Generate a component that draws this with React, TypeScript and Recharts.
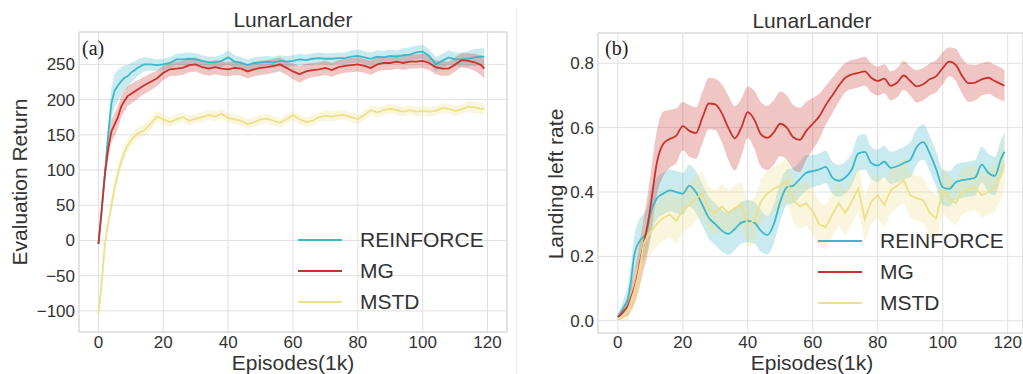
import { Area, CartesianGrid, ComposedChart, Line, ReferenceArea, XAxis, YAxis } from 'recharts'

// episodes (in 1k) sampled along the curves
const EPISODES = [
  0, 1, 2, 3, 4, 5, 6, 7, 8, 9, 10,
  12, 14, 16, 18, 20, 22, 24, 26, 28,
  30, 32, 34, 36, 38, 40, 42, 44, 46,
  48, 50, 52, 54, 56, 58, 60, 62, 64,
  66, 68, 70, 72, 74, 76, 78, 80, 82,
  84, 86, 88, 90, 92, 94, 96, 98, 100,
  102, 104, 106, 108, 110, 112, 114, 116, 118,
  119
]
const X_TICKS = [0, 20, 40, 60, 80, 100, 120]

// (a) evaluation return
const RETURN_REINFORCE = [
  -5, 40, 95, 150, 195, 213, 220, 226, 231, 233, 238,
  245, 250, 250, 249, 250, 252, 257, 257, 258,
  257, 255, 253, 253, 255, 260, 254, 252, 249,
  252, 253, 254, 253, 255, 254, 255, 257, 256,
  258, 259, 258, 258, 259, 259, 261, 262, 260,
  258, 261, 260, 262, 261, 263, 264, 267, 268,
  262, 250, 255, 260, 257, 257, 258, 260, 261,
  261
]
const RETURN_REINFORCE_SD = [
  2, 6, 12, 18, 22, 24, 22, 20, 18, 16, 14,
  12, 10, 9, 8, 8, 8, 8, 9, 9,
  9, 8, 8, 8, 9, 10, 9, 8, 8,
  8, 8, 8, 8, 8, 8, 8, 8, 8,
  8, 8, 8, 8, 8, 8, 9, 9, 9,
  9, 9, 9, 9, 9, 10, 10, 10, 10,
  10, 10, 10, 10, 10, 10, 11, 12, 12,
  12
]
const RETURN_MG = [
  -5, 45, 95, 130, 155, 165, 175, 190, 198, 205, 208,
  214, 220, 225, 230, 238, 243, 244, 245, 249,
  250, 246, 244, 246, 244, 243, 245, 244, 240,
  243, 245, 246, 248, 250, 245, 240, 236, 240,
  242, 243, 245, 242, 246, 248, 249, 250, 248,
  245, 250, 252, 252, 254, 252, 254, 254, 255,
  252, 246, 244, 244, 250, 256, 255, 253, 249,
  244
]
const RETURN_MG_SD = [
  2, 5, 10, 14, 16, 16, 16, 15, 15, 14, 14,
  13, 12, 12, 11, 10, 10, 10, 10, 10,
  10, 10, 10, 10, 10, 10, 10, 10, 10,
  10, 10, 10, 10, 10, 10, 11, 12, 11,
  10, 10, 10, 10, 10, 10, 10, 10, 10,
  10, 10, 10, 10, 10, 10, 10, 10, 10,
  10, 10, 10, 10, 10, 10, 11, 12, 14,
  14
]
const RETURN_MSTD = [
  -105, -60, -5, 25, 50, 75, 95, 112, 125, 135, 142,
  152, 156, 165, 176, 172, 168, 172, 175, 170,
  173, 175, 178, 176, 180, 174, 172, 170, 165,
  168, 172, 173, 170, 167, 172, 178, 172, 168,
  170, 175, 177, 176, 178, 178, 175, 172, 178,
  185, 182, 185, 187, 185, 183, 185, 183, 184,
  183, 184, 188, 187, 184, 186, 190, 189, 187,
  187
]
const RETURN_MSTD_SD = [
  2, 4, 6, 8, 10, 10, 10, 10, 10, 9, 9,
  8, 8, 8, 8, 8, 7, 7, 7, 7,
  7, 7, 7, 7, 7, 7, 7, 7, 7,
  7, 7, 7, 7, 7, 7, 7, 7, 7,
  7, 7, 7, 7, 7, 7, 7, 7, 7,
  7, 7, 7, 7, 7, 7, 7, 7, 7,
  7, 7, 7, 7, 7, 7, 8, 8, 8,
  8
]
const RETURN_TICKS = [-100, -50, 0, 50, 100, 150, 200, 250]

// (b) landing left rate
const RATE_REINFORCE = [
  0.012, 0.025, 0.045, 0.065, 0.12, 0.2, 0.235, 0.252, 0.262, 0.28, 0.33,
  0.38, 0.395, 0.405, 0.4, 0.395, 0.42, 0.4, 0.36, 0.32,
  0.3, 0.28, 0.27, 0.285, 0.305, 0.31, 0.305, 0.28, 0.266,
  0.3, 0.37, 0.415, 0.42, 0.44, 0.46, 0.465, 0.47, 0.478,
  0.445, 0.435, 0.445, 0.47, 0.52, 0.525, 0.49, 0.482, 0.494,
  0.475, 0.48, 0.49, 0.5, 0.54, 0.555, 0.52, 0.47, 0.415,
  0.41, 0.43, 0.437, 0.44, 0.445, 0.485, 0.46, 0.45, 0.505,
  0.525
]
const RATE_REINFORCE_SD = [
  0.01, 0.02, 0.03, 0.04, 0.05, 0.06, 0.065, 0.07, 0.07, 0.07, 0.07,
  0.065, 0.065, 0.065, 0.065, 0.065, 0.065, 0.065, 0.065, 0.065,
  0.065, 0.065, 0.065, 0.065, 0.065, 0.065, 0.065, 0.065, 0.06,
  0.06, 0.06, 0.055, 0.055, 0.055, 0.055, 0.05, 0.05, 0.05,
  0.05, 0.05, 0.05, 0.05, 0.055, 0.055, 0.05, 0.05, 0.05,
  0.05, 0.05, 0.05, 0.055, 0.055, 0.055, 0.055, 0.055, 0.055,
  0.055, 0.055, 0.055, 0.055, 0.055, 0.055, 0.06, 0.06, 0.06,
  0.06
]
const RATE_MG = [
  0.012, 0.02, 0.032, 0.045, 0.07, 0.1, 0.14, 0.19, 0.24, 0.29, 0.35,
  0.49, 0.55, 0.565, 0.575, 0.605, 0.59, 0.583, 0.63, 0.675,
  0.672, 0.645, 0.6, 0.567, 0.6, 0.648, 0.625, 0.58, 0.568,
  0.585, 0.612, 0.6, 0.57, 0.562, 0.59, 0.612, 0.635, 0.67,
  0.7, 0.73, 0.755, 0.765, 0.77, 0.775, 0.755, 0.745, 0.752,
  0.73, 0.74, 0.762, 0.745, 0.728, 0.735, 0.75, 0.76, 0.785,
  0.805, 0.795, 0.76, 0.738, 0.74, 0.75, 0.755, 0.745, 0.735,
  0.73
]
const RATE_MG_SD = [
  0.01, 0.015, 0.02, 0.03, 0.04, 0.05, 0.06, 0.07, 0.08, 0.09, 0.1,
  0.1, 0.1, 0.09, 0.085, 0.075, 0.08, 0.08, 0.08, 0.08,
  0.08, 0.09, 0.1, 0.1, 0.09, 0.08, 0.09, 0.1, 0.1,
  0.1, 0.1, 0.1, 0.1, 0.1, 0.09, 0.08, 0.07, 0.06,
  0.055, 0.05, 0.045, 0.045, 0.045, 0.045, 0.045, 0.045, 0.045,
  0.045, 0.045, 0.045, 0.045, 0.05, 0.05, 0.05, 0.05, 0.05,
  0.045, 0.05, 0.055, 0.058, 0.055, 0.05, 0.05, 0.05, 0.05,
  0.05
]
const RATE_MSTD = [
  0.005, 0.01, 0.02, 0.03, 0.06, 0.09, 0.13, 0.18, 0.24, 0.26, 0.275,
  0.3, 0.32, 0.33, 0.31, 0.345, 0.36, 0.38, 0.395, 0.345,
  0.335, 0.355, 0.335, 0.35, 0.36, 0.3, 0.31, 0.37, 0.395,
  0.41, 0.42, 0.435, 0.375, 0.355, 0.365, 0.34, 0.3, 0.29,
  0.33, 0.365, 0.335, 0.37, 0.41, 0.315, 0.37, 0.39, 0.36,
  0.405, 0.42, 0.437, 0.39, 0.38, 0.375, 0.335, 0.318, 0.406,
  0.38, 0.365, 0.4, 0.41, 0.414, 0.39, 0.4, 0.412, 0.46,
  0.489
]
const RATE_MSTD_SD = [
  0.005, 0.01, 0.02, 0.03, 0.04, 0.05, 0.06, 0.07, 0.07, 0.07, 0.07,
  0.07, 0.07, 0.07, 0.07, 0.07, 0.07, 0.07, 0.07, 0.07,
  0.07, 0.07, 0.07, 0.07, 0.07, 0.07, 0.07, 0.07, 0.07,
  0.07, 0.07, 0.07, 0.07, 0.07, 0.07, 0.07, 0.07, 0.07,
  0.07, 0.07, 0.07, 0.07, 0.07, 0.07, 0.07, 0.07, 0.07,
  0.07, 0.07, 0.07, 0.07, 0.07, 0.07, 0.07, 0.07, 0.07,
  0.07, 0.07, 0.07, 0.07, 0.07, 0.07, 0.07, 0.075, 0.08,
  0.08
]
const RATE_TICKS = [0, 0.2, 0.4, 0.6, 0.8]

const SERIES = [
  { key: 'reinforce', name: 'REINFORCE', color: '#3db8c9', smooth: true },
  { key: 'mg', name: 'MG', color: '#c9332e', smooth: true },
  { key: 'mstd', name: 'MSTD', color: '#eee089', smooth: false }
]

const FONT = '"Liberation Sans", Arial, sans-serif'
const INK = '#333333'
const GRID = '#e1e1e1'

const buildRows = (means: number[][], sds: number[][]) =>
  EPISODES.map((x, i) => {
    const row: any = { x }
    SERIES.forEach((s, k) => {
      row[s.key] = means[k][i]
      row[s.key + 'Band'] = [means[k][i] - sds[k][i], means[k][i] + sds[k][i]]
    })
    return row
  })

const returnRows = buildRows(
  [RETURN_REINFORCE, RETURN_MG, RETURN_MSTD],
  [RETURN_REINFORCE_SD, RETURN_MG_SD, RETURN_MSTD_SD]
)
const rateRows = buildRows(
  [RATE_REINFORCE, RATE_MG, RATE_MSTD],
  [RATE_REINFORCE_SD, RATE_MG_SD, RATE_MSTD_SD]
)

const tickStyle = { fontSize: 17, fill: INK, fontFamily: FONT }

const Text = ({ x, y, size, children, serif = false }: any) => (
  <div
    style={{
      position: 'absolute',
      left: x,
      top: y,
      fontSize: size,
      lineHeight: `${size}px`,
      whiteSpace: 'nowrap',
      fontFamily: serif ? '"Liberation Serif", "Times New Roman", serif' : FONT,
      color: serif ? '#222' : INK
    }}
  >
    {children}
  </div>
)

const CenteredText = ({ x, y, lh = 21, children }: any) => (
  <div
    style={{
      position: 'absolute',
      left: x,
      top: y,
      transform: 'translateX(-50%)',
      fontSize: 21,
      lineHeight: `${lh}px`,
      whiteSpace: 'nowrap',
      color: INK
    }}
  >
    {children}
  </div>
)

const VerticalText = ({ x, y, children }: any) => (
  <div
    style={{
      position: 'absolute',
      left: x,
      top: y,
      transform: 'translate(-50%, -50%) rotate(-90deg)',
      fontSize: 21,
      lineHeight: '21px',
      whiteSpace: 'nowrap',
      color: INK
    }}
  >
    {children}
  </div>
)

const LegendBlock = ({ x, y }: { x: number; y: number }) => (
  <div style={{ position: 'absolute', left: x, top: y }}>
    {SERIES.map((s, i) => (
      <div
        key={s.key}
        style={{ position: 'absolute', left: 0, top: i * 31, height: 21, display: 'flex', alignItems: 'center' }}
      >
        <div style={{ width: 44, height: 2, background: s.color }} />
        <div style={{ marginLeft: 18, fontSize: 21, lineHeight: '21px', color: INK, whiteSpace: 'nowrap' }}>
          {s.name}
        </div>
      </div>
    ))}
  </div>
)

// bands first, then the mean lines on top
const seriesMarks = (smoothing: boolean) => {
  const curveOf = (s: any) => (smoothing && s.smooth ? 'monotone' : 'linear')
  return [
    ...SERIES.map((s) => (
      <Area
        key={s.key + 'Band'}
        dataKey={s.key + 'Band'}
        type={curveOf(s)}
        fill={s.color}
        fillOpacity={0.28}
        stroke="none"
        isAnimationActive={false}
        activeDot={false}
      />
    )),
    ...SERIES.map((s) => (
      <Line
        key={s.key}
        dataKey={s.key}
        type={curveOf(s)}
        stroke={s.color}
        strokeWidth={1.8}
        dot={false}
        activeDot={false}
        isAnimationActive={false}
      />
    ))
  ]
}

const minus = (v: number) => String(v).replace('-', '\u2212')

export default function App() {
  return (
    <div
      style={{
        position: 'absolute',
        left: 0,
        top: 0,
        width: 1023,
        height: 374,
        overflow: 'hidden',
        background: '#fff',
        fontFamily: FONT
      }}
    >
      {/* (a) evaluation return */}
      <div style={{ position: 'absolute', left: 0, top: 0 }}>
        <ComposedChart width={512} height={374} data={returnRows} margin={{ top: 32, right: 5, bottom: 0, left: 0 }}>
          <CartesianGrid stroke={GRID} strokeWidth={1} />
          <ReferenceArea x1={-6} x2={126} y1={-130} y2={296} fill="none" stroke="#d6d6d6" ifOverflow="visible" />
          <XAxis
            type="number"
            dataKey="x"
            domain={[-6, 126]}
            ticks={X_TICKS}
            allowDataOverflow
            height={42}
            tickSize={0}
            tickMargin={4}
            axisLine={false}
            tick={tickStyle}
          />
          <YAxis
            type="number"
            domain={[-130, 296]}
            ticks={RETURN_TICKS}
            allowDataOverflow
            width={79}
            tickSize={0}
            tickMargin={4}
            axisLine={false}
            tick={tickStyle}
            tickFormatter={minus}
          />
          {seriesMarks(false)}
        </ComposedChart>
      </div>

      {/* (b) landing left rate */}
      <div style={{ position: 'absolute', left: 512, top: 0 }}>
        <ComposedChart width={511} height={374} data={rateRows} margin={{ top: 33, right: 0, bottom: 0, left: 0 }}>
          <CartesianGrid stroke={GRID} strokeWidth={1} />
          <ReferenceArea x1={-6.1} x2={124.7} y1={-0.038} y2={0.894} fill="none" stroke="#d6d6d6" ifOverflow="visible" />
          <XAxis
            type="number"
            dataKey="x"
            domain={[-6.1, 124.7]}
            ticks={X_TICKS}
            allowDataOverflow
            height={41}
            tickSize={0}
            tickMargin={3}
            axisLine={false}
            tick={tickStyle}
          />
          <YAxis
            type="number"
            domain={[-0.038, 0.894]}
            ticks={RATE_TICKS}
            allowDataOverflow
            width={86}
            tickSize={0}
            tickMargin={4}
            axisLine={false}
            tick={tickStyle}
            tickFormatter={(v: number) => v.toFixed(1)}
          />
          {seriesMarks(true)}
        </ComposedChart>
      </div>

      <div style={{ position: 'absolute', left: 516, top: 8, width: 1, height: 366, background: '#efefef' }} />

      <CenteredText x={293} y={9}>LunarLander</CenteredText>
      <CenteredText x={812} y={10}>LunarLander</CenteredText>
      <CenteredText x={293} y={354} lh={18}>Episodes(1k)</CenteredText>
      <CenteredText x={812} y={354} lh={18}>Episodes(1k)</CenteredText>
      <VerticalText x={19} y={182}>Evaluation Return</VerticalText>
      <VerticalText x={555} y={184}>Landing left rate</VerticalText>
      <Text x={82} y={38} size={20} serif>(a)</Text>
      <Text x={605} y={38} size={20} serif>(b)</Text>

      <LegendBlock x={298} y={229} />
      <LegendBlock x={818} y={230} />
    </div>
  )
}
